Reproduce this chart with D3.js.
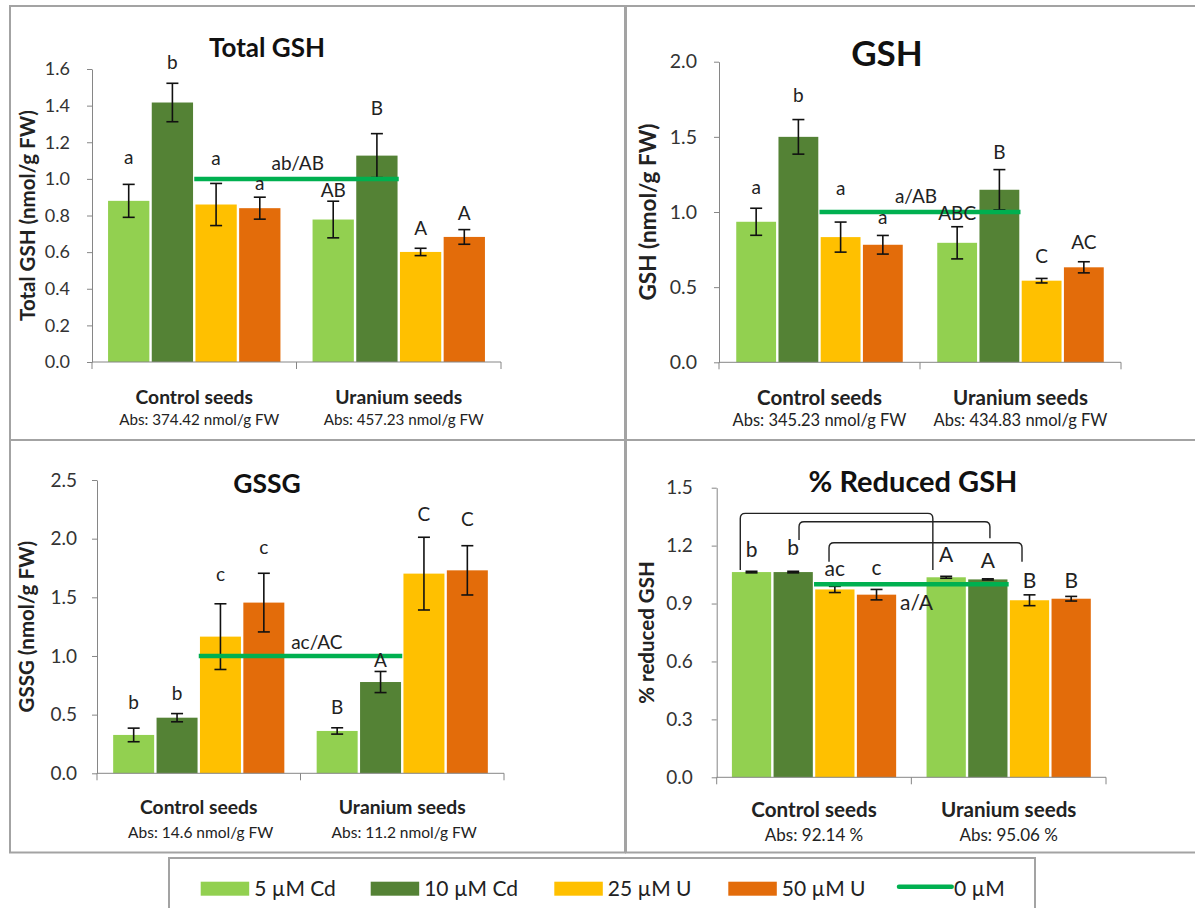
<!DOCTYPE html>
<html><head><meta charset="utf-8">
<script src="https://cdn.jsdelivr.net/npm/d3@7"></script>
<style>
body{margin:0;background:#fff}
svg{display:block}
text{font-family:Lato,"Open Sans",sans-serif}
</style>
</head><body>
<svg id="chart" width="1195" height="908"></svg>
<script>
// ---------- DATA ----------
const categories = ["Control seeds", "Uranium seeds"];
const seriesNames = ["5 µM Cd", "10 µM Cd", "25 µM U", "50 µM U"];
const lineName = "0 µM";
const zeroLineValues = [1.0, 1.0];

// Total GSH
const totalGshMeans  = [[0.88, 1.417, 0.86, 0.84], [0.778, 1.127, 0.601, 0.683]];
const totalGshErrors = [[0.09, 0.105, 0.115, 0.06], [0.10, 0.12, 0.02, 0.04]];
const totalGshLetters = [["a", "b", "a", "a"], ["AB", "B", "A", "A"]];
const totalGshLetterAt = [[1.109, 1.638, 1.099, 0.967], [0.939, 1.387, 0.732, 0.814]];
const totalGshLineLabel = "ab/AB";
const totalGshLineLabelAt = 1.087;
const totalGshAbs = ["Abs: 374.42 nmol/g FW", "Abs: 457.23 nmol/g FW"];
const totalGshTicks = [0, 0.2, 0.4, 0.6, 0.8, 1.0, 1.2, 1.4, 1.6];

// GSH
const gshMeans  = [[0.935, 1.50, 0.833, 0.782], [0.795, 1.148, 0.543, 0.632]];
const gshErrors = [[0.09, 0.115, 0.10, 0.062], [0.107, 0.134, 0.015, 0.037]];
const gshLetters = [["a", "b", "a", "a"], ["ABC", "B", "C", "AC"]];
const gshLetterAt = [[1.153, 1.778, 1.142, 0.953], [0.995, 1.401, 0.703, 0.802]];
const gshLineLabel = "a/AB";
const gshLineLabelAt = 1.106;
const gshAbs = ["Abs: 345.23 nmol/g FW", "Abs: 434.83 nmol/g FW"];
const gshTicks = [0, 0.5, 1.0, 1.5, 2.0];

// GSSG
const gssgMeans  = [[0.327, 0.474, 1.165, 1.455], [0.361, 0.778, 1.702, 1.730]];
const gssgErrors = [[0.058, 0.035, 0.28, 0.25], [0.027, 0.09, 0.31, 0.21]];
const gssgLetters = [["b", "b", "c", "c"], ["B", "A", "C", "C"]];
const gssgLetterAt = [[0.610, 0.682, 1.682, 1.912], [0.568, 0.966, 2.210, 2.165]];
const gssgLineLabel = "ac/AC";
const gssgLineLabelAt = 1.122;
const gssgAbs = ["Abs: 14.6 nmol/g FW", "Abs: 11.2 nmol/g FW"];
const gssgTicks = [0, 0.5, 1.0, 1.5, 2.0, 2.5];

// % Reduced GSH
const reducedMeans  = [[1.063, 1.063, 0.973, 0.946], [1.036, 1.025, 0.917, 0.925]];
const reducedErrors = [[0.004, 0.004, 0.016, 0.027], [0.005, 0.003, 0.028, 0.012]];
const reducedLetters = [["b", "b", "ac", "c"], ["A", "A", "B", "B"]];
const reducedLetterAt = [[1.181, 1.191, 1.070, 1.077], [1.153, 1.122, 1.022, 1.022]];
const reducedLineLabel = "a/A";
const reducedLineLabelAt = 0.906;
const reducedAbs = ["Abs: 92.14 %", "Abs: 95.06 %"];
const reducedTicks = [0, 0.3, 0.6, 0.9, 1.2, 1.5];
// comparison brackets: series index, top value, left/right foot values
const reducedBrackets = [
  {s: 0, top: 1.367, footL: 1.074, footR: 1.074},
  {s: 1, top: 1.324, footL: 1.229, footR: 1.238},
  {s: 2, top: 1.215, footL: 1.117, footR: 1.117}
];

// ---------- STYLE ----------
const barColors = ["#92D050", "#548235", "#FFC000", "#E36C0A"];
const lineColor = "#00B050";
const axisColor = "#868686";
const frameColor = "#a3a3a3";

const svg = d3.select("#chart");

function drawPanel(p) {
  const g = svg.append("g");
  g.append("rect").attr("x", p.frame[0]).attr("y", p.frame[1])
    .attr("width", p.frame[2]).attr("height", p.frame[3])
    .attr("fill", "none").attr("stroke", frameColor).attr("stroke-width", 2);

  const y = d3.scaleLinear().domain([0, p.max]).range([p.yBot, p.yTop]);
  const x0 = d3.scaleBand().domain(categories).range([p.xL, p.xR]);
  const x1 = d3.scaleBand().domain(seriesNames).range([0, x0.bandwidth()])
    .paddingInner(0).paddingOuter(p.outer);
  const bw = x1.bandwidth();
  const cx = (ci, si) => x0(categories[ci]) + x1(seriesNames[si]) + bw / 2;

  // y axis
  const yAxis = d3.axisLeft(y).tickValues(p.ticks).tickFormat(d3.format(".1f"))
    .tickSizeOuter(0).tickSizeInner(5).tickPadding(p.tickPad);
  const ya = g.append("g").attr("transform", `translate(${p.xL},0)`).call(yAxis);
  ya.select(".domain").attr("stroke", axisColor);
  ya.selectAll(".tick line").attr("stroke", axisColor);
  ya.selectAll(".tick text").attr("font-size", p.tickFs).attr("fill", "#333")
    .attr("font-family", "Lato");

  // bars
  const rows = [];
  p.means.forEach((row, ci) => row.forEach((v, si) =>
    rows.push({ci, si, v, e: p.errors[ci][si], l: p.letters[ci][si], at: p.letterAt[ci][si]})));
  g.selectAll("rect.bar").data(rows).enter().append("rect")
    .attr("x", d => cx(d.ci, d.si) - bw / 2 + 1.2)
    .attr("width", bw - 2.4)
    .attr("y", d => y(d.v))
    .attr("height", d => y(0) - y(d.v))
    .attr("fill", d => barColors[d.si]);

  // x axis
  const xr = x0.range();
  g.append("line").attr("x1", xr[0]).attr("x2", xr[1]).attr("y1", y(0)).attr("y2", y(0))
    .attr("stroke", axisColor);
  [xr[0], x0(categories[1]), xr[1]].forEach(xx =>
    g.append("line").attr("x1", xx).attr("x2", xx).attr("y1", y(0)).attr("y2", y(0) + 7)
      .attr("stroke", axisColor));

  // error bars
  const eg = g.append("g").attr("stroke", "#111").attr("stroke-width", 1.6);
  rows.forEach(d => {
    const c = cx(d.ci, d.si);
    eg.append("line").attr("x1", c).attr("x2", c).attr("y1", y(d.v + d.e)).attr("y2", y(d.v - d.e));
    [d.v + d.e, d.v - d.e].forEach(t =>
      eg.append("line").attr("x1", c - 6).attr("x2", c + 6).attr("y1", y(t)).attr("y2", y(t)));
  });

  // zero-concentration line
  const centers = categories.map(c => x0(c) + x0.bandwidth() / 2);
  g.append("path").datum(zeroLineValues)
    .attr("d", d3.line().x((d, i) => centers[i]).y(d => y(d)))
    .attr("stroke", lineColor).attr("stroke-width", 4.5).attr("fill", "none");

  // letters
  const isX = s => /^[acemnorsuvwxz]+$/.test(s);
  rows.forEach(d => {
    g.append("text").attr("x", cx(d.ci, d.si))
      .attr("y", y(d.at) + (isX(d.l) ? 0.25 : 0.36) * p.letterFs)
      .attr("text-anchor", "middle").attr("font-size", p.letterFs).attr("fill", "#222")
      .text(d.l);
  });
  g.append("text").attr("x", centers[0] + (centers[1] - centers[0]) * p.lineLabelFrac)
    .attr("y", y(p.lineLabelAt) + 0.36 * p.letterFs)
    .attr("text-anchor", "middle").attr("font-size", p.letterFs).attr("fill", "#222")
    .text(p.lineLabel);

  // brackets
  if (p.brackets) {
    const r = 5;
    p.brackets.forEach(b => {
      const xa = cx(0, b.s) + p.bracketOff[b.s][0] * bw;
      const xb = cx(1, b.s) + p.bracketOff[b.s][1] * bw;
      const yt = y(b.top);
      const path = `M${xa},${y(b.footL)} L${xa},${yt + r} Q${xa},${yt} ${xa + r},${yt} L${xb - r},${yt} Q${xb},${yt} ${xb},${yt + r} L${xb},${y(b.footR)}`;
      g.append("path").attr("d", path).attr("fill", "none").attr("stroke", "#222").attr("stroke-width", 1.4);
    });
  }

  // titles
  g.append("text").attr("x", p.titleX).attr("y", p.titleY + 0.36 * p.titleFs)
    .attr("text-anchor", "middle").attr("font-weight", 700).attr("font-size", p.titleFs)
    .attr("fill", "#111").text(p.title);
  g.append("text").attr("transform", `translate(${p.yTitleX},${(p.yTop + p.yBot) / 2}) rotate(-90)`)
    .attr("y", 0.36 * p.yTitleFs).attr("text-anchor", "middle").attr("font-weight", 700)
    .attr("font-size", p.yTitleFs).attr("fill", "#222").text(p.yTitle);

  // category labels
  categories.forEach((c, ci) => {
    g.append("text").attr("x", centers[ci]).attr("y", y(0) + p.catDy + 0.36 * p.catFs)
      .attr("text-anchor", "middle").attr("font-weight", 700).attr("font-size", p.catFs)
      .attr("fill", "#222").text(c);
    g.append("text").attr("x", centers[ci] + p.absShift).attr("y", y(0) + p.absDy + 0.36 * p.absFs)
      .attr("text-anchor", "middle").attr("font-size", p.absFs)
      .attr("fill", "#222").text(p.abs[ci]);
  });
}

drawPanel({
  frame: [10, 6, 615, 434], xL: 92, xR: 501, yTop: 69, yBot: 362, max: 1.6, ticks: totalGshTicks,
  outer: 0.34, tickPad: 17, tickFs: 18,
  means: totalGshMeans, errors: totalGshErrors, letters: totalGshLetters, letterAt: totalGshLetterAt,
  letterFs: 19, lineLabel: totalGshLineLabel, lineLabelAt: totalGshLineLabelAt, lineLabelFrac: 0.506,
  title: "Total GSH", titleX: 267, titleY: 48, titleFs: 26,
  yTitle: "Total GSH (nmol/g FW)", yTitleX: 28, yTitleFs: 20.5,
  catDy: 35, catFs: 19.3, abs: totalGshAbs, absDy: 58, absFs: 15.2, absShift: 5
});
drawPanel({
  frame: [626, 6, 600, 434], xL: 719, xR: 1121, yTop: 61.7, yBot: 362.3, max: 2.0, ticks: gshTicks,
  outer: 0.38, tickPad: 17, tickFs: 19.5,
  means: gshMeans, errors: gshErrors, letters: gshLetters, letterAt: gshLetterAt,
  letterFs: 19, lineLabel: gshLineLabel, lineLabelAt: gshLineLabelAt, lineLabelFrac: 0.48,
  title: "GSH", titleX: 887, titleY: 53, titleFs: 35,
  yTitle: "GSH (nmol/g FW)", yTitleX: 648, yTitleFs: 22.5,
  catDy: 35, catFs: 20.5, abs: gshAbs, absDy: 58, absFs: 16.5, absShift: 0
});
drawPanel({
  frame: [10, 440, 615, 412.5], xL: 97, xR: 504, yTop: 480, yBot: 773.3, max: 2.5, ticks: gssgTicks,
  outer: 0.345, tickPad: 15, tickFs: 19,
  means: gssgMeans, errors: gssgErrors, letters: gssgLetters, letterAt: gssgLetterAt,
  letterFs: 19, lineLabel: gssgLineLabel, lineLabelAt: gssgLineLabelAt, lineLabelFrac: 0.58,
  title: "GSSG", titleX: 267, titleY: 483.3, titleFs: 26.5,
  yTitle: "GSSG (nmol/g FW)", yTitleX: 27, yTitleFs: 20.5,
  catDy: 33.4, catFs: 19.3, abs: gssgAbs, absDy: 59.4, absFs: 15.5, absShift: 2
});
drawPanel({
  frame: [626, 440, 600, 412.5], xL: 716.7, xR: 1106, yTop: 487.7, yBot: 777.3, max: 1.5, ticks: reducedTicks,
  outer: 0.336, tickPad: 19, tickFs: 19,
  means: reducedMeans, errors: reducedErrors, letters: reducedLetters, letterAt: reducedLetterAt,
  letterFs: 21, lineLabel: reducedLineLabel, lineLabelAt: reducedLineLabelAt, lineLabelFrac: 0.527,
  brackets: reducedBrackets, bracketOff: [[-0.27, -0.32], [0.14, 0.05], [-0.14, -0.18]],
  title: "% Reduced GSH", titleX: 913, titleY: 481.7, titleFs: 29,
  yTitle: "% reduced GSH", yTitleX: 646.7, yTitleFs: 20.5,
  catDy: 32.7, catFs: 20.6, abs: reducedAbs, absDy: 57.7, absFs: 17, absShift: 0
});

// ---------- LEGEND ----------
const legend = svg.append("g");
legend.append("rect").attr("x", 169).attr("y", 858).attr("width", 866).attr("height", 70)
  .attr("fill", "#fff").attr("stroke", frameColor).attr("stroke-width", 2);
const legendX = [200.7, 370.7, 554.3, 728.3, 899];
const legendFs = 21;
seriesNames.forEach((s, i) => {
  legend.append("rect").attr("x", legendX[i]).attr("y", 881.7).attr("width", 48.5).attr("height", 14)
    .attr("fill", barColors[i]);
  legend.append("text").attr("x", legendX[i] + 53.5).attr("y", 888 + 0.36 * legendFs)
    .attr("font-size", legendFs).attr("fill", "#222").text(s);
});
legend.append("line").attr("x1", legendX[4]).attr("x2", legendX[4] + 52.7)
  .attr("y1", 886.7).attr("y2", 886.7).attr("stroke", lineColor).attr("stroke-width", 4.5)
  .attr("stroke-linecap", "round");
legend.append("text").attr("x", legendX[4] + 55).attr("y", 888 + 0.36 * legendFs)
  .attr("font-size", legendFs).attr("fill", "#222").text(lineName);
</script>
</body></html>
